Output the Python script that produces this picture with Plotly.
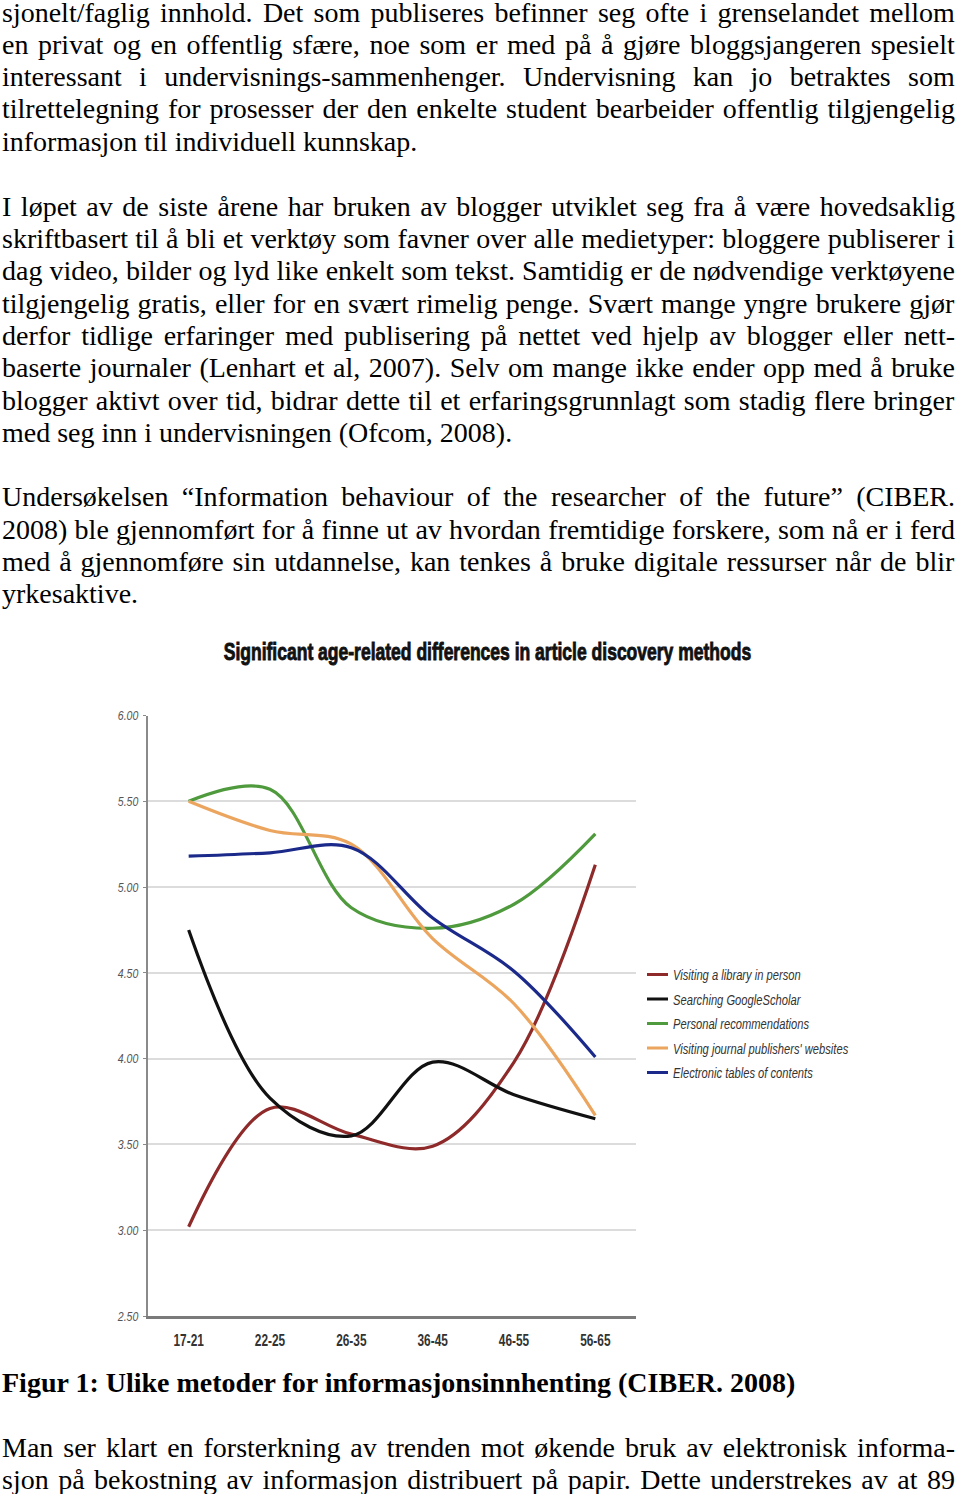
import json
import plotly.graph_objects as go

W, H = 960, 1494

# ---------------- data ----------------
age_groups = ["17-21", "22-25", "26-35", "36-45", "46-55", "56-65"]
library_visit = [3.02, 3.71, 3.56, 3.49, 3.98, 5.13]
google_scholar = [4.75, 3.77, 3.55, 3.98, 3.79, 3.65]
personal_rec = [5.50, 5.57, 4.88, 4.76, 4.90, 5.31]
publisher_sites = [5.50, 5.33, 5.25, 4.70, 4.32, 3.67]
etoc = [5.18, 5.20, 5.23, 4.82, 4.51, 4.01]

series_names = ["Visiting a library in person", "Searching GoogleScholar",
                "Personal recommendations", "Visiting journal publishers' websites",
                "Electronic tables of contents"]
series_values = [library_visit, google_scholar, personal_rec, publisher_sites, etoc]
series_colors = ["#8e2a2a", "#111111", "#4e9a3c", "#eba55e", "#1b2a8a"]

y_ticks = [2.5, 3.0, 3.5, 4.0, 4.5, 5.0, 5.5, 6.0]

chart_title = "Significant age-related differences in article discovery methods"
caption = "Figur 1: Ulike metoder for informasjonsinnhenting (CIBER. 2008)"

para1 = [
    "sjonelt/faglig innhold. Det som publiseres befinner seg ofte i grenselandet mellom",
    "en privat og en offentlig sfære, noe som er med på å gjøre bloggsjangeren spesielt",
    "interessant i undervisnings-sammenhenger. Undervisning kan jo betraktes som",
    "tilrettelegning for prosesser der den enkelte student bearbeider offentlig tilgjengelig",
    "informasjon til individuell kunnskap.",
]
para2 = [
    "I løpet av de siste årene har bruken av blogger utviklet seg fra å være hovedsaklig",
    "skriftbasert til å bli et verktøy som favner over alle medietyper: bloggere publiserer i",
    "dag video, bilder og lyd like enkelt som tekst. Samtidig er de nødvendige verktøyene",
    "tilgjengelig gratis, eller for en svært rimelig penge. Svært mange yngre brukere gjør",
    "derfor tidlige erfaringer med publisering på nettet ved hjelp av blogger eller nett-",
    "baserte journaler (Lenhart et al, 2007). Selv om mange ikke ender opp med å bruke",
    "blogger aktivt over tid, bidrar dette til et erfaringsgrunnlagt som stadig flere bringer",
    "med seg inn i undervisningen (Ofcom, 2008).",
]
para3 = [
    "Undersøkelsen \u201cInformation behaviour of the researcher of the future\u201d (CIBER.",
    "2008) ble gjennomført for å finne ut av hvordan fremtidige forskere, som nå er i ferd",
    "med å gjennomføre sin utdannelse, kan tenkes å bruke digitale ressurser når de blir",
    "yrkesaktive.",
]
para4 = [
    "Man ser klart en forsterkning av trenden mot økende bruk av elektronisk informa-",
    "sjon på bekostning av informasjon distribuert på papir. Dette understrekes av at 89",
]

# ---------------- figure ----------------
fig = go.Figure()
for i, (name, vals, col) in enumerate(zip(series_names, series_values, series_colors)):
    fig.add_trace(go.Scatter(
        x=age_groups, y=vals, name=name, mode="lines",
        legendgroup="g%d" % i,
        line=dict(color=col, width=3.2, shape="spline", smoothing=1.0),
        hoverinfo="skip",
    ))

SANS = "Liberation Sans, Arial, sans-serif"
SERIF = "Liberation Serif, Times New Roman, serif"

# vertical page-to-picture mapping measured from a calibration render
V_SCALE, V_OFF = 0.9892, 7.0

def py(pix):
    page = (pix - V_OFF) / V_SCALE
    return 1 - page / H

fig.update_layout(
    width=W, height=H,
    margin=dict(l=0, r=0, t=0, b=0),
    paper_bgcolor="white", plot_bgcolor="white",
    showlegend=True,
    legend=dict(
        x=633 / W, y=py(957.5), xanchor="left", yanchor="top",
        font=dict(family=SANS, size=15, color="#333333", style="italic"),
        bgcolor="rgba(0,0,0,0)", borderwidth=0, tracegroupgap=2,
    ),
    xaxis=dict(
        domain=[148 / W, 636 / W],
        type="category", range=[-0.5, 5.5],
        showgrid=False, zeroline=False,
        showline=True, linecolor="#7a7a7a", linewidth=3,
        ticks="", ticklabelstandoff=8,
        tickfont=dict(family=SANS, size=16, color="#333333", weight="bold"),
    ),
    yaxis=dict(
        domain=[py(1315), py(715)],
        range=[2.5, 6.0],
        tickvals=y_ticks, tickformat=".2f",
        showgrid=True, gridcolor="#dcdcdc", gridwidth=1.5,
        zeroline=False,
        showline=True, linecolor="#8a8a8a", linewidth=2,
        ticks="outside", ticklen=3, tickcolor="#8a8a8a", tickwidth=1,
        ticklabelstandoff=2,
        tickfont=dict(family=SANS, size=13.5, color="#555555", style="italic"),
    ),
)

annotations = []
# chart title
annotations.append(dict(
    text="<b>" + chart_title + "</b>", xref="paper", yref="paper",
    x=487 / W, y=py(651), xanchor="center", yanchor="middle", showarrow=False,
    font=dict(family=SANS, size=24, color="#111111"),
))

PITCH = 32.3
justified = []

def add_para(lines, y0, justify_all_but_last=True, bold=False):
    for i, ln in enumerate(lines):
        txt = ("<b>" + ln + "</b>") if bold else ln
        annotations.append(dict(
            text=txt, xref="paper", yref="paper",
            x=0, y=py(y0 + i * PITCH), xanchor="left", yanchor="middle",
            align="left", showarrow=False,
            font=dict(family=SERIF, size=28, color="#000000"),
        ))
        if justify_all_but_last and i < len(lines) - 1:
            justified.append(ln)

add_para(para1, 12)
add_para(para2, 206)
add_para(para3, 496.5)
add_para([caption], 1381, justify_all_but_last=False, bold=True)
add_para(para4, 1446)
justified.append(para4[-1])

fig.update_layout(annotations=annotations)

post = """
var gd = document.getElementById('{plot_id}');
var JUST = %s;
var TITLE = %s;
function condense(t, f){
  t.removeAttribute('textLength');
  var w = t.getComputedTextLength();
  if (w > 0) {
    t.setAttribute('textLength', w * f);
    t.setAttribute('lengthAdjust', 'spacingAndGlyphs');
  }
}
function fixText(){
  var g0 = gd.getBoundingClientRect();
  gd.querySelectorAll('g.annotation').forEach(function(a){
    var t = a.querySelector('text.annotation-text');
    if (!t) return;
    var s = t.textContent;
    if (s === TITLE) {
      var grp = a.querySelector('g.annotation-text-g');
      grp.removeAttribute('transform');
      var b = grp.getBoundingClientRect();
      var cx = (b.left + b.right) / 2 - g0.left;
      var sc = 530 / b.width;
      grp.setAttribute('transform', 'translate(' + cx + ',0) scale(' + sc + ',1) translate(' + (-cx) + ',0)');
      t.style.stroke = '#111111';
      t.style.strokeWidth = '0.9px';
      return;
    }
    if (JUST.indexOf(s) < 0) return;
    t.style.wordSpacing = '0px';
    var r = t.getBoundingClientRect();
    var n = (s.match(/ /g) || []).length;
    if (!n) return;
    var target = 955 - (r.left - g0.left);
    t.style.wordSpacing = ((target - r.width) / n) + 'px';
  });
  gd.querySelectorAll('text.legendtext').forEach(function(t){ condense(t, 0.745); });
  gd.querySelectorAll('g.legendlines path').forEach(function(p){ p.setAttribute('d', 'M14,0h21'); });
  gd.querySelectorAll('g.xtick text').forEach(function(t){ condense(t, 0.74); });
  gd.querySelectorAll('g.ytick text').forEach(function(t){ condense(t, 0.78); });
}
fixText();
gd.on('plotly_afterplot', fixText);
""" % (json.dumps(justified), json.dumps(chart_title))

fig.write_html("out.html", post_script=post)
